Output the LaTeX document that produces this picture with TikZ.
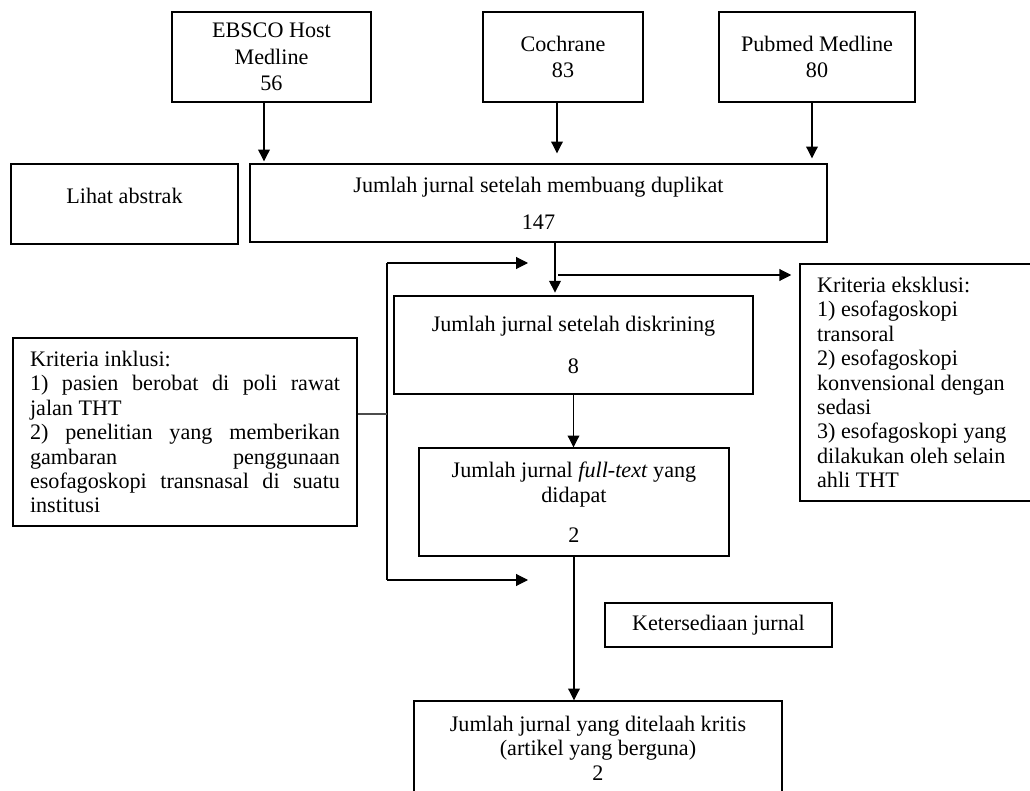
\documentclass[tikz,border=0pt]{standalone}
\usepackage{fontspec}
\setmainfont{Liberation Serif}
\usetikzlibrary{arrows.meta}
\def\px{0.01968cm}
\begin{document}
\begin{tikzpicture}[x=\px,y=-\px,>={Triangle[length=6.6pt,width=6.6pt]},
  font=\fontsize{12.4}{13.7}\selectfont,
  kotak/.style={draw,line width=0.8pt,inner sep=0pt,align=center},
  panah/.style={->,line width=0.6pt},
  garis/.style={line width=0.6pt}]
  \useasboundingbox (0,0) rectangle (1030,791);
  \clip (0,0) rectangle (1030,791);

  % Sumber database
  \node[kotak,minimum width=199*\px,minimum height=90*\px] (ebsco) at (271.5,57) {EBSCO Host\\[1.2pt]Medline\\[1.2pt]56};
  \node[kotak,minimum width=160*\px,minimum height=90*\px] (cochrane) at (563,57) {Cochrane\\[1pt]83};
  \node[kotak,minimum width=196*\px,minimum height=90*\px] (pubmed) at (817,57) {Pubmed Medline\\[1pt]80};

  % Tahap seleksi
  \node[kotak,minimum width=227*\px,minimum height=80*\px,text depth=9pt] (abstrak) at (124.5,204) {Lihat abstrak};
  \node[kotak,minimum width=577*\px,minimum height=78*\px] (duplikat) at (538.5,203) {Jumlah jurnal setelah membuang duplikat\\[7pt]147};
  \node[kotak,minimum width=359*\px,minimum height=98*\px] (diskrining) at (573.5,345) {Jumlah jurnal setelah diskrining\\[9.8pt]8};
  \node[kotak,minimum width=310*\px,minimum height=108*\px] (fulltext) at (574,502) {Jumlah jurnal \textit{full-text} yang\\didapat\\[8.7pt]2};
  \node[kotak,minimum width=227*\px,minimum height=44*\px] (tersedia) at (718.5,625) {Ketersediaan jurnal};
  \node[kotak,minimum width=368*\px,minimum height=94*\px] (telaah) at (598,748) {Jumlah jurnal yang ditelaah kritis\\(artikel yang berguna)\\2};

  % Kriteria
  \node[kotak,minimum width=344*\px,minimum height=188*\px,text width=173.6pt,align=justify] (inklusi) at (185,432)
    {Kriteria inklusi:\\1) pasien berobat di poli rawat\linebreak jalan THT\\2) penelitian yang memberikan\linebreak gambaran penggunaan\linebreak esofagoskopi transnasal di suatu\linebreak institusi};
  \node[kotak,minimum width=245*\px,minimum height=237*\px,text width=118pt,align=flush left] (eksklusi) at (922.5,382.5)
    {Kriteria eksklusi:\\1) esofagoskopi\\transoral\\2) esofagoskopi\\konvensional dengan\\sedasi\\3) esofagoskopi yang\\dilakukan oleh selain\\ahli THT};

  % Panah dari sumber
  \draw[panah,shorten >=1.1pt] ([xshift=-7.5*\px]ebsco.south) -- ([xshift=-7.5*\px]ebsco.south |- duplikat.north);
  \draw[panah,shorten >=5.6pt] ([xshift=-6*\px]cochrane.south) -- ([xshift=-6*\px]cochrane.south |- duplikat.north);
  \draw[panah,shorten >=2.8pt] ([xshift=-5*\px]pubmed.south) -- ([xshift=-5*\px]pubmed.south |- duplikat.north);

  % Alur utama
  \coordinate (cabang) at (555,275);
  \draw[panah,shorten >=1.5pt] (cabang |- duplikat.south) -- (cabang |- diskrining.north);
  \draw[panah,shorten >=4.5pt] ([xshift=3*\px]cabang) -- (cabang -| eksklusi.west);
  \draw[panah] (diskrining.south) -- (diskrining.south |- fulltext.north);
  \draw[panah] (fulltext.south) -- (fulltext.south |- telaah.north);

  % Garis kriteria inklusi
  \coordinate (lingAtas) at (387,263);
  \coordinate (lingBawah) at (387,580);
  \coordinate (ujungAtas) at (528,263);
  \coordinate (ujungBawah) at (528,580);
  \coordinate (tengahIn) at (387,414);
  \draw[garis] (lingAtas) -- (lingBawah);
  \draw[panah] (lingAtas) -- (ujungAtas);
  \draw[panah] (lingBawah) -- (ujungBawah);
  \draw[garis,black!70] (inklusi.east |- tengahIn) -- (tengahIn);
\end{tikzpicture}
\end{document}
